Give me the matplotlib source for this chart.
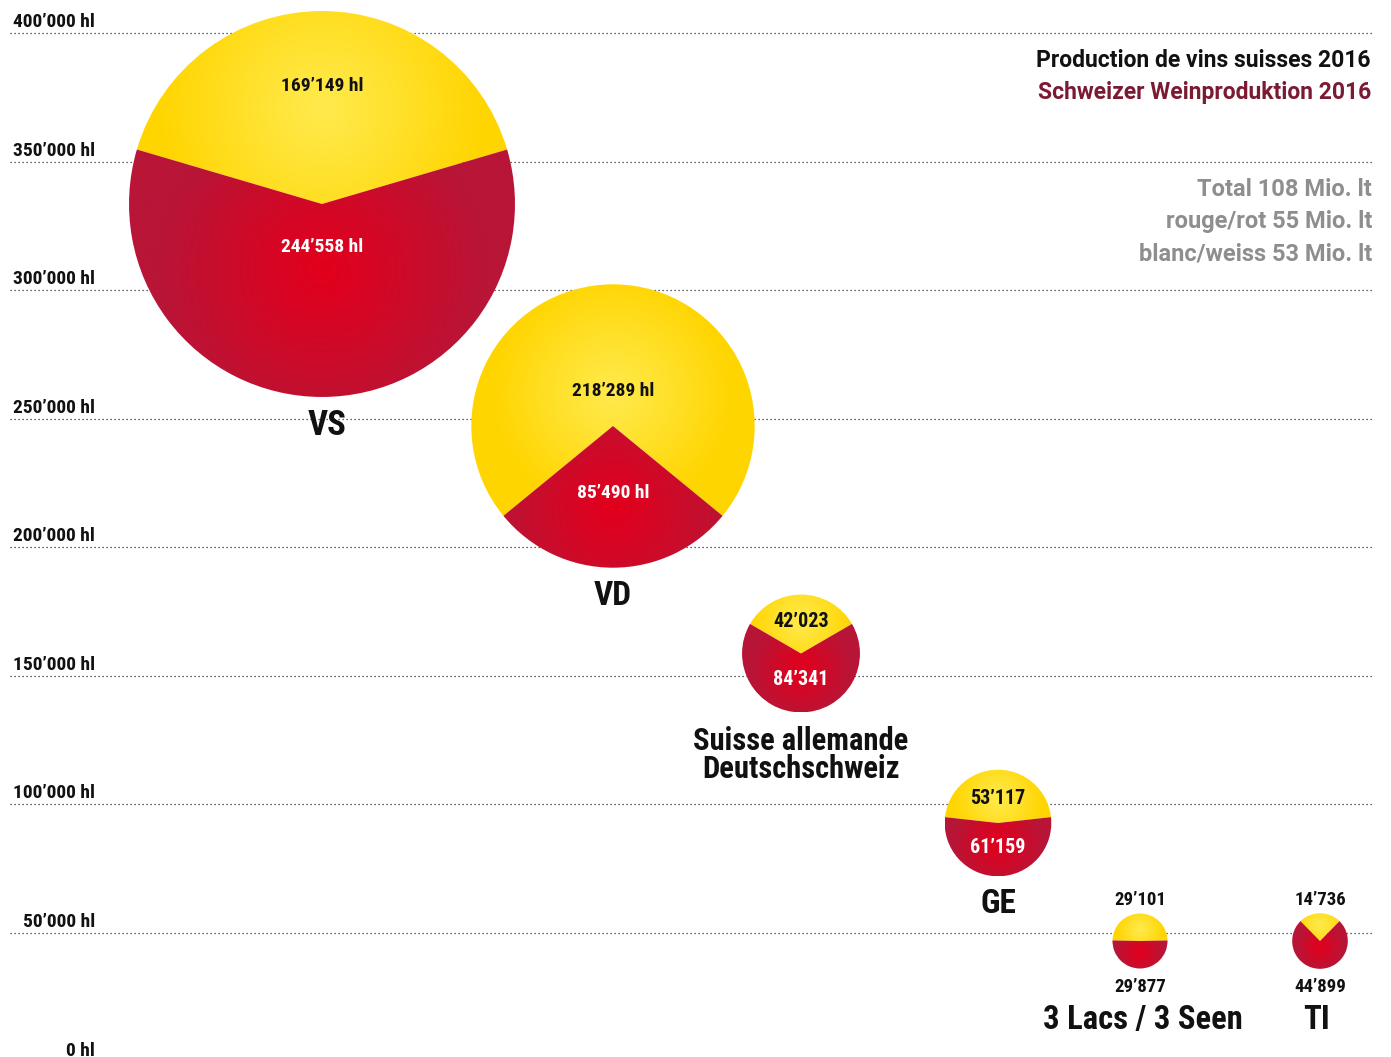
import numpy as np
import matplotlib
matplotlib.use("Agg")
import matplotlib.pyplot as plt
from matplotlib.patches import Wedge
from matplotlib.colors import to_rgb

plt.rcParams['font.family'] = ['Roboto Condensed', 'DejaVu Sans']
plt.rcParams['font.weight'] = 'bold'
plt.rcParams['font.stretch'] = 'condensed'
WIDE = ['Roboto', 'DejaVu Sans']

# ---- data ----
regions = ["VS", "VD", "Suisse allemande\nDeutschschweiz", "GE", "3 Lacs / 3 Seen", "TI"]
white_hl = [169149, 218289, 42023, 53117, 29101, 14736]
red_hl = [244558, 85490, 84341, 61159, 29877, 44899]
y_ticks = [0, 50000, 100000, 150000, 200000, 250000, 300000, 350000, 400000]
title_fr = "Production de vins suisses 2016"
title_de = "Schweizer Weinproduktion 2016"
notes = ["Total 108 Mio. lt", "rouge/rot 55 Mio. lt", "blanc/weiss 53 Mio. lt"]

# ---- layout (pixel-based positioning) ----
W, H = 1391, 1057
S = 388.9            # hl per pixel
Y0 = 1061.6          # pixel row of 0 hl
cx_px = [322, 613, 801, 998, 1140, 1320]
cy_px = [204, 426, 653.5, 823, 941, 941]
R_PER_HL = 0.1814    # radius proportional to total
with_unit = [True, True, False, False, False, False]
outside = [False, False, False, False, True, True]
# baselines in pixels: (white value, red value, region label last line)
base_px = [(91, 252, 435), (396, 498, 605), (627, 685, 778), (804, 853, 913),
           (905, 992, 1029), (905, 992, 1029)]
label_x_px = [327, 613, 801, 998, 1143, 1317]
val_fs = [14, 14, 14.5, 14.5, 13.5, 13.5]
lab_fs = [25, 24, 22, 24, 23.5, 23.5]

def px2x(p):
    return p * S

def py2y(p):
    return (Y0 - p) * S

fig = plt.figure(figsize=(W / 100, H / 100), dpi=100)
ax = fig.add_axes([0, 0, 1, 1])
ax.set_xlim(0, W * S)
ax.set_ylim(py2y(H), py2y(0))
ax.axis('off')

# grid lines and labels
for t in y_ticks:
    if t > 0:
        ax.plot([px2x(10), px2x(1373)], [t, t], color='#333333', lw=0.9,
                linestyle=(0, (1, 2.2)), zorder=1)
    ax.text(px2x(95), t + 6 * S, f"{t:,} hl".replace(",", "’"), ha='right', va='baseline',
            fontsize=14, color='#111111', zorder=2)

YEL_EDGE, YEL_IN = np.array(to_rgb('#FFD500')), np.array(to_rgb('#FFEA4C'))
RED_EDGE, RED_IN = np.array(to_rgb('#B81537')), np.array(to_rgb('#E2001C'))

def gradient_wedge(cx, cy, r, th1, th2, c_in, c_edge):
    w = Wedge((cx, cy), r, th1, th2, facecolor='none', edgecolor='none')
    ax.add_patch(w)
    half = np.deg2rad((th2 - th1) / 2.0)
    mid = np.deg2rad((th1 + th2) / 2.0)
    d = 2 * r * np.sin(half) / (3 * half) if half > 0 else 0
    gx, gy = cx + d * np.cos(mid), cy + d * np.sin(mid)
    n = 300
    xs = np.linspace(cx - r, cx + r, n)
    ys = np.linspace(cy - r, cy + r, n)
    X, Y = np.meshgrid(xs, ys)
    dist = np.hypot(X - gx, Y - gy) / (0.85 * r)
    t = np.clip(dist, 0, 1) ** 1.1
    img = c_in[None, None, :] * (1 - t[..., None]) + c_edge[None, None, :] * t[..., None]
    im = ax.imshow(img, extent=(cx - r, cx + r, cy - r, cy + r), origin='lower',
                   interpolation='bilinear', zorder=3)
    im.set_clip_path(w)

for i, name in enumerate(regions):
    wv, rv = white_hl[i], red_hl[i]
    tot = wv + rv
    r = tot * R_PER_HL
    cx, cy = px2x(cx_px[i]), py2y(cy_px[i])
    h = 180.0 * wv / tot
    gradient_wedge(cx, cy, r, 90 - h, 90 + h, YEL_IN, YEL_EDGE)
    gradient_wedge(cx, cy, r, 90 + h, 450 - h, RED_IN, RED_EDGE)
    suf = " hl" if with_unit[i] else ""
    ws = f"{wv:,}".replace(",", "’") + suf
    rs = f"{rv:,}".replace(",", "’") + suf
    bw, br, bl = base_px[i]
    ax.text(cx, py2y(bw), ws, ha='center', va='baseline', fontsize=val_fs[i],
            color='#111111', zorder=5)
    ax.text(cx, py2y(br), rs, ha='center', va='baseline', fontsize=val_fs[i],
            color='#111111' if outside[i] else 'white', zorder=5)
    ax.text(px2x(label_x_px[i]), py2y(bl), name, ha='center', va='baseline',
            fontsize=lab_fs[i], color='#111111', linespacing=0.92, zorder=5)

# title & notes
ax.text(px2x(1371), py2y(67), title_fr, ha='right', va='baseline', fontsize=16.5,
        color='#111111', family=WIDE, stretch='normal')
ax.text(px2x(1371), py2y(99), title_de, ha='right', va='baseline', fontsize=16.5,
        color='#7A1A33', family=WIDE, stretch='normal')
for k, s in enumerate(notes):
    ax.text(px2x(1372), py2y(196 + 32 * k), s, ha='right', va='baseline', fontsize=17,
            color='#8E8E8E', family=WIDE, stretch='normal')

fig.savefig("out.png", dpi=100)
